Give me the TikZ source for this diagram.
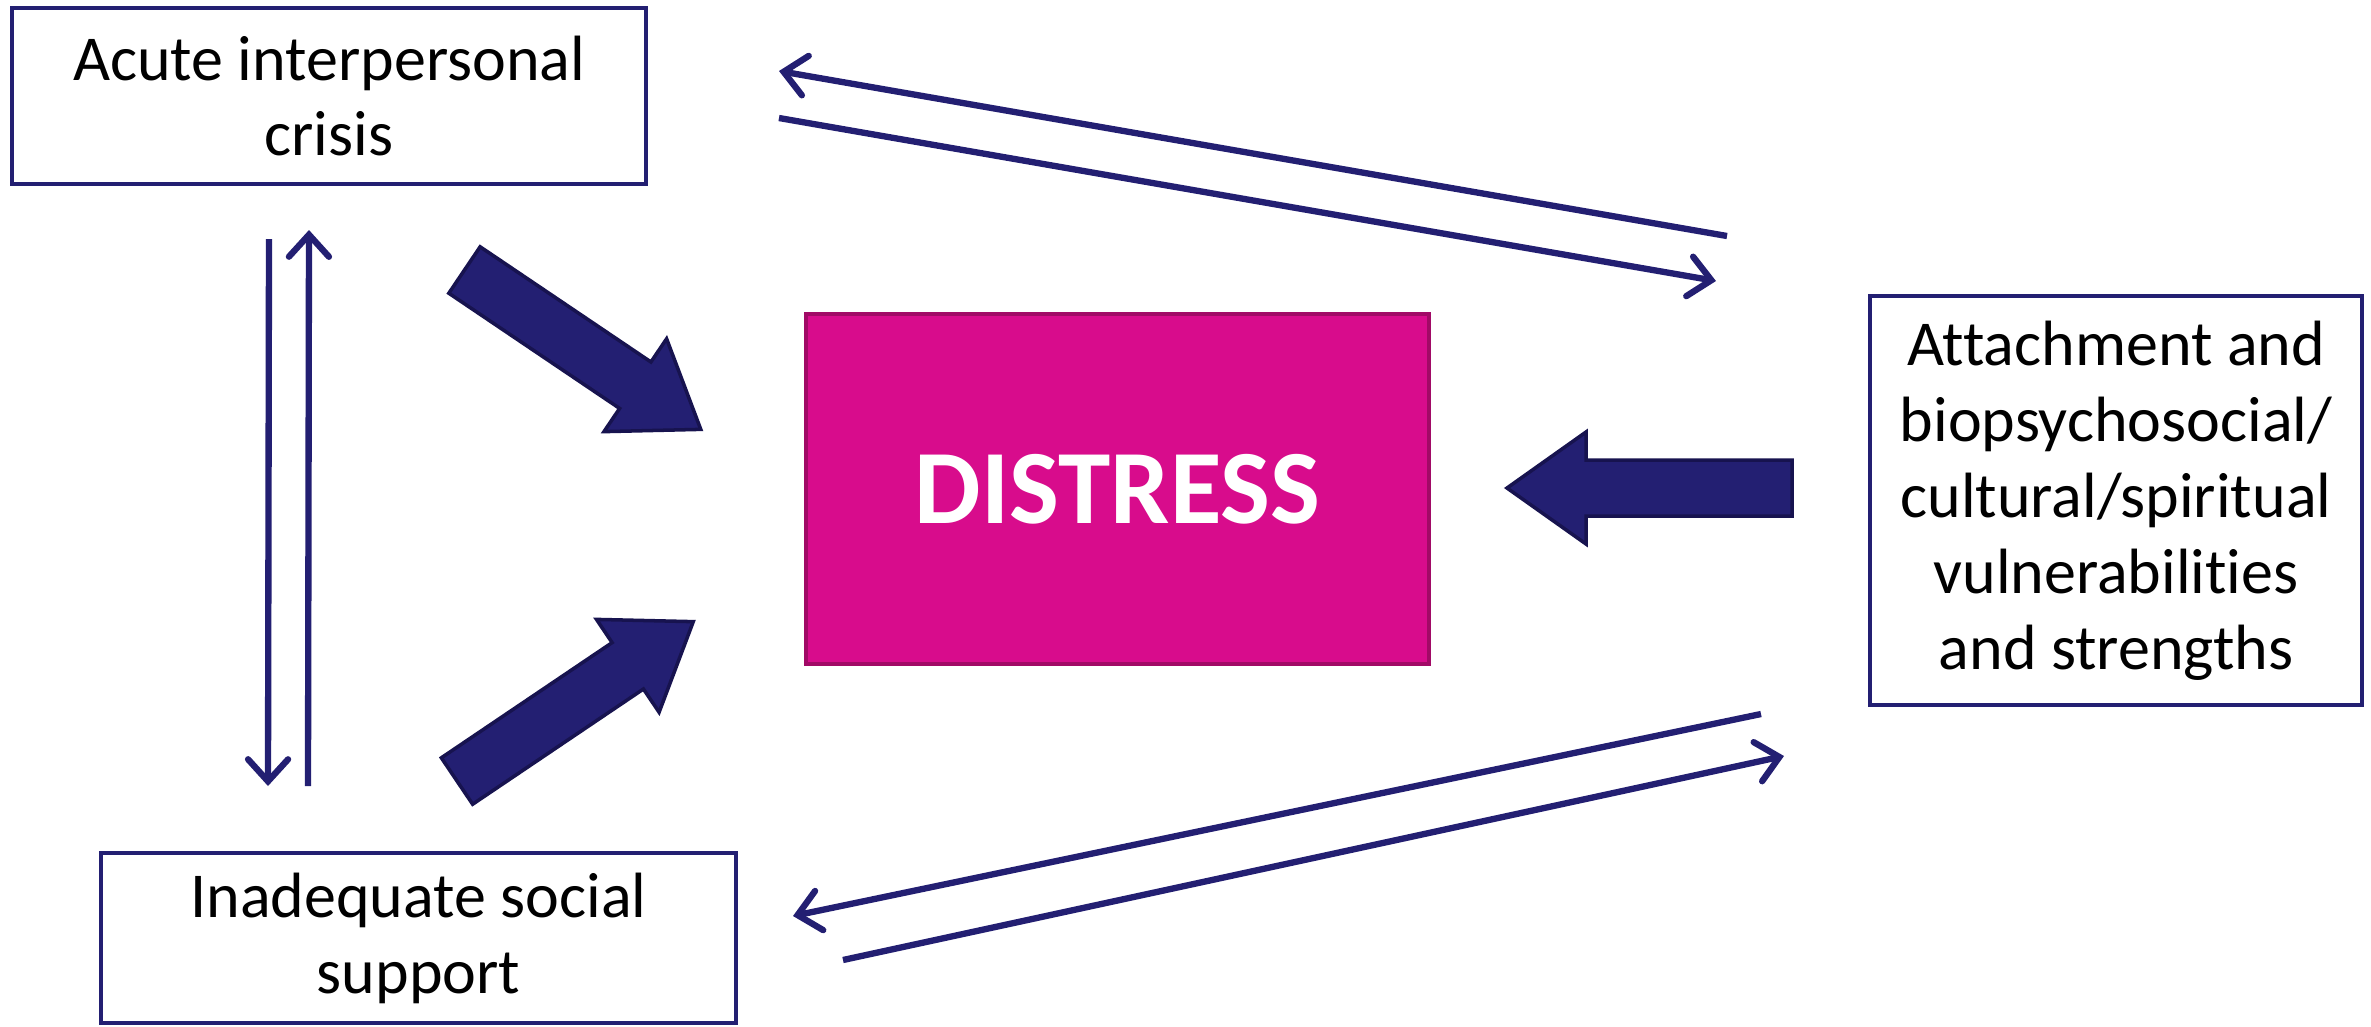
\documentclass[tikz,border=0pt]{standalone}
\usepackage{fontspec}
\setmainfont{Carlito}[Ligatures=NoCommon]
\usetikzlibrary{arrows.meta}
\definecolor{navy}{HTML}{231F72}
\definecolor{navydark}{HTML}{17134F}
\definecolor{pinkbox}{HTML}{D80C8C}
\definecolor{pinkdark}{HTML}{A10A66}
\tikzset{
  box/.style={draw=navy, line width=1.3pt, fill=white, align=center,
    inner sep=0pt, font=\fontsize{18.2}{21.6}\selectfont},
  core/.style={draw=pinkdark, line width=1.3pt, fill=pinkbox, text=white,
    inner sep=0pt, font=\fontsize{30}{34}\selectfont\bfseries},
  link/.style={draw=navy, line width=1.8pt,
    -{Straight Barb[length=2.2mm,width=4mm,line cap=round]}},
  fatarrow/.pic={
    \filldraw[fill=navy, draw=navydark, line width=1pt]
      (0,-28) -- (206,-28) -- (206,-56) -- (285,0) -- (206,56) -- (206,28) -- (0,28) -- cycle;
  }
}
\begin{document}
\begin{tikzpicture}[x=0.01cm, y=-0.01cm]
\useasboundingbox (0,0) rectangle (2371,1026);
% boxes
\node[box, minimum width=6.34cm, minimum height=1.76cm] (crisis) at (329,96) {Acute interpersonal\\crisis};
\node[core, minimum width=6.23cm, minimum height=3.50cm] (distress) at (1117.5,489) {DISTRESS};
\node[box, minimum width=4.92cm, minimum height=4.09cm] (attach) at (2116,500.5)
  {Attachment and\\biopsychosocial/\\cultural/spiritual\\vulnerabilities\\and strengths};
\node[box, minimum width=6.35cm, minimum height=1.70cm] (support) at (418.5,938) {Inadequate social\\support};
% big arrows into distress
\pic[rotate=-34] at (464.5,270) {fatarrow};
\pic[rotate=34] at (457,781) {fatarrow};
\pic[rotate=180] at (1792,488) {fatarrow};
% end points of the thin arrows
\coordinate (ca1) at (1727,236);
\coordinate (ca2) at (779,71);
\coordinate (ca3) at (779,118);
\coordinate (ca4) at (1716,281);
\coordinate (cs1) at (269,239);
\coordinate (cs2) at (268,786);
\coordinate (cs3) at (308,786);
\coordinate (cs4) at (309,230);
\coordinate (sa1) at (1761,714);
\coordinate (sa2) at (793,916);
\coordinate (sa3) at (843,960);
\coordinate (sa4) at (1784,756);
\draw[link] (ca1) -- (ca2);
\draw[link] (ca3) -- (ca4);
\draw[link] (cs1) -- (cs2);
\draw[link] (cs3) -- (cs4);
\draw[link] (sa1) -- (sa2);
\draw[link] (sa3) -- (sa4);
\end{tikzpicture}
\end{document}
